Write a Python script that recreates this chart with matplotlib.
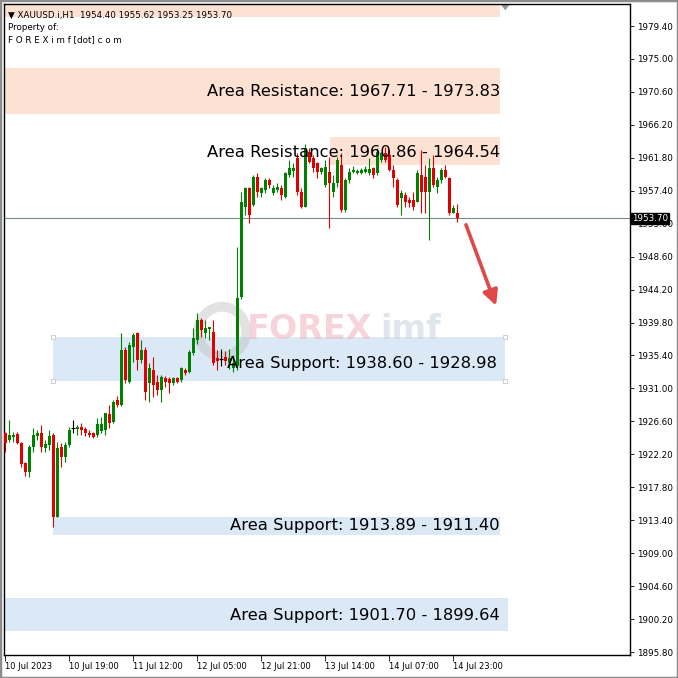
import matplotlib.pyplot as plt
from matplotlib.patches import Rectangle, Ellipse, Polygon

# XAUUSD H1 candles
opens = [1925.00, 1924.11, 1924.56, 1924.91, 1923.76, 1921.09, 1919.88, 1923.22, 1924.65, 1925.00,
         1923.00, 1923.44, 1924.78, 1913.87, 1923.13, 1921.89, 1923.44, 1925.67, 1925.54, 1925.89,
         1925.54, 1925.09, 1925.00, 1924.78, 1925.36, 1925.45, 1927.58, 1926.56, 1929.45, 1928.79,
         1936.13, 1931.90, 1936.58, 1938.36, 1934.80, 1936.13, 1931.68, 1933.46, 1931.90, 1930.79,
         1932.35, 1932.21, 1931.77, 1932.35, 1932.12, 1933.46, 1933.24, 1935.69, 1937.47, 1940.14,
         1938.36, 1938.89, 1938.58, 1935.00, 1934.90, 1935.20, 1934.40, 1933.70, 1934.00, 1943.20,
         1955.27, 1957.72, 1955.50, 1959.28, 1957.05, 1957.50, 1958.84, 1957.05, 1957.50, 1957.72,
         1956.61, 1959.50, 1960.00, 1961.73, 1957.28, 1955.27, 1962.62, 1961.73, 1961.06, 1959.94,
         1958.16, 1959.94, 1957.27, 1958.39, 1960.84, 1954.82, 1958.83, 1959.94, 1959.72, 1959.81,
         1959.94, 1959.72, 1960.39, 1959.72, 1961.51, 1962.40, 1962.18, 1960.17, 1958.84, 1956.39,
         1956.83, 1956.17, 1956.17, 1955.94, 1959.51, 1959.30, 1957.28, 1960.40, 1957.95, 1958.84,
         1960.17, 1959.06, 1954.38, 1954.40]
highs = [1925.22, 1926.78, 1925.22, 1925.22, 1923.89, 1921.22, 1923.44, 1925.67, 1925.45, 1926.12,
         1924.11, 1925.45, 1925.00, 1923.89, 1923.67, 1923.89, 1925.89, 1926.78, 1926.12, 1926.34,
         1925.89, 1925.45, 1925.22, 1927.00, 1927.23, 1927.76, 1928.79, 1929.45, 1929.99, 1938.36,
         1936.58, 1937.24, 1938.36, 1938.58, 1937.47, 1936.58, 1934.35, 1935.24, 1932.79, 1932.79,
         1932.66, 1932.57, 1932.57, 1932.57, 1933.91, 1933.68, 1936.13, 1939.03, 1941.03, 1940.36,
         1940.14, 1939.25, 1940.14, 1936.10, 1936.30, 1936.00, 1936.20, 1935.50, 1949.93, 1957.28,
         1957.94, 1957.94, 1959.50, 1959.73, 1957.94, 1959.06, 1959.06, 1958.17, 1958.39, 1958.17,
         1959.95, 1961.51, 1961.06, 1962.40, 1957.72, 1963.60, 1963.06, 1962.17, 1961.28, 1960.60,
         1961.50, 1961.95, 1959.50, 1961.95, 1962.39, 1959.05, 1960.39, 1960.70, 1960.30, 1960.40,
         1960.70, 1961.73, 1960.61, 1963.06, 1962.60, 1963.29, 1962.84, 1960.84, 1959.06, 1957.50,
         1957.28, 1956.61, 1957.28, 1960.17, 1962.84, 1960.84, 1961.73, 1962.18, 1959.28, 1960.40,
         1960.84, 1959.28, 1955.50, 1955.62]
lows = [1922.55, 1923.89, 1923.89, 1923.58, 1920.55, 1919.30, 1919.13, 1922.55, 1924.11, 1922.55,
        1922.55, 1922.78, 1912.54, 1913.80, 1920.55, 1921.22, 1923.22, 1925.00, 1924.78, 1924.78,
        1924.65, 1924.56, 1924.33, 1924.45, 1925.09, 1924.78, 1925.67, 1926.34, 1928.47, 1928.70,
        1931.68, 1931.68, 1934.57, 1933.46, 1934.35, 1929.45, 1929.23, 1929.90, 1930.12, 1929.23,
        1931.23, 1930.34, 1931.46, 1931.77, 1931.90, 1932.79, 1933.01, 1935.46, 1937.00, 1937.91,
        1937.69, 1937.47, 1934.13, 1933.50, 1934.00, 1934.10, 1933.60, 1933.20, 1933.50, 1943.00,
        1954.16, 1953.05, 1955.30, 1956.61, 1956.61, 1957.05, 1957.72, 1956.83, 1957.28, 1956.16,
        1956.39, 1959.28, 1959.28, 1956.83, 1955.05, 1955.27, 1961.06, 1959.95, 1959.06, 1959.70,
        1957.94, 1952.38, 1956.61, 1957.94, 1954.60, 1954.60, 1958.39, 1959.72, 1959.60, 1959.60,
        1959.81, 1959.50, 1959.05, 1959.50, 1961.30, 1961.29, 1960.00, 1957.95, 1955.28, 1954.16,
        1955.28, 1955.28, 1954.83, 1955.90, 1954.38, 1954.40, 1950.82, 1957.95, 1957.06, 1958.39,
        1959.06, 1954.16, 1954.38, 1953.25]
closes = [1923.67, 1924.78, 1924.78, 1923.76, 1920.91, 1919.88, 1923.22, 1924.78, 1925.00, 1923.22,
          1923.58, 1924.65, 1913.87, 1923.00, 1921.89, 1923.44, 1925.45, 1925.67, 1925.80, 1925.45,
          1925.09, 1924.78, 1924.56, 1926.25, 1926.25, 1927.67, 1926.34, 1929.23, 1928.79, 1936.13,
          1932.12, 1936.80, 1938.13, 1934.80, 1936.13, 1930.57, 1933.68, 1931.46, 1930.79, 1932.48,
          1931.90, 1931.77, 1932.35, 1931.90, 1933.68, 1933.10, 1935.91, 1937.69, 1940.14, 1938.80,
          1939.03, 1939.20, 1934.35, 1934.60, 1934.90, 1934.60, 1935.00, 1934.40, 1943.03, 1955.94,
          1957.72, 1954.16, 1959.28, 1957.28, 1957.72, 1958.84, 1958.17, 1957.72, 1957.94, 1956.83,
          1959.73, 1960.39, 1960.39, 1957.28, 1955.27, 1963.06, 1961.28, 1960.39, 1959.95, 1960.39,
          1960.61, 1958.39, 1958.39, 1961.50, 1954.82, 1958.83, 1959.94, 1960.17, 1960.07, 1960.17,
          1960.26, 1960.26, 1959.50, 1962.62, 1962.40, 1961.51, 1960.17, 1959.06, 1955.50, 1957.06,
          1955.94, 1955.72, 1955.28, 1959.73, 1957.28, 1957.28, 1960.40, 1958.17, 1958.84, 1960.17,
          1959.28, 1954.38, 1955.05, 1953.70]

time_labels = ["10 Jul 2023", "10 Jul 19:00", "11 Jul 12:00", "12 Jul 05:00",
               "12 Jul 21:00", "13 Jul 14:00", "14 Jul 07:00", "14 Jul 23:00"]
time_idx = [0, 16, 32, 48, 64, 80, 96, 112]

price_ticks = [1979.40 - 4.40 * k for k in range(20)]
last_price = 1953.70

zone_names = ["Area Resistance: 1967.71 - 1973.83", "Area Resistance: 1960.86 - 1964.54",
              "Area Support: 1938.60 - 1928.98", "Area Support: 1913.89 - 1911.40",
              "Area Support: 1901.70 - 1899.64"]
zone_lo = [1967.71, 1960.86, 1932.00, 1911.40, 1898.60]
zone_hi = [1973.83, 1964.54, 1937.90, 1913.89, 1903.00]
zone_kind = ["res", "res", "sup", "sup", "sup"]

# pixel geometry: bar i sits at x = 5 + 4*i, price scale 7.488 px per point
W = H = 678
fig = plt.figure(figsize=(6.78, 6.78), dpi=100)
fig.patch.set_facecolor("white")
ax = fig.add_axes([4 / W, (W - 655) / W, 626 / W, 651 / H])
ax.set_xlim(-0.25, 156.25)
ax.set_ylim(1895.40, 1982.34)

res_col = "#fde2d4"
sup_col = "#dbe9f7"

# top strip behind the header
ax.add_patch(Rectangle((-0.25, 1980.55), 124, 2.0, color=res_col, zorder=0, lw=0))
ax.add_patch(Polygon([[123.8, 1982.34], [126.3, 1982.34], [125.05, 1981.5]],
                     closed=True, color="#9a9a9a", zorder=1, lw=0))

x_ranges = [(-0.25, 123.75), (81.25, 123.75), (12, 125), (12, 123.75), (-0.25, 125.75)]
text_y = [1970.72, 1962.57, 1934.39, 1912.63, 1900.61]
text_x = [123.75, 123.75, 123.0, 123.75, 123.75]
for k in range(len(zone_names)):
    x0, x1 = x_ranges[k]
    col = res_col if zone_kind[k] == "res" else sup_col
    ax.add_patch(Rectangle((x0, zone_lo[k]), x1 - x0, zone_hi[k] - zone_lo[k],
                           color=col, zorder=0, lw=0))
    ax.text(text_x[k], text_y[k], zone_names[k], ha="right", va="center",
            fontsize=11.8, color="black", zorder=6)

# selection handles on the first support zone
for hx in (12, 125):
    for hy in (zone_lo[2], zone_hi[2]):
        ax.plot(hx, hy, marker="s", ms=3.5, mfc="white", mec="#c0c8d0", mew=0.6, zorder=2)

# watermark logo
ax.add_patch(Ellipse((54.3, 1938.6), 12.0, 6.6, fill=False, ec="#bfbfbf", lw=7, alpha=0.45, zorder=1))
ax.text(60.5, 1938.9, "FOREX", fontsize=24, fontweight="bold", color="#f2b8c6",
        alpha=0.6, va="center", ha="left", zorder=1)
ax.text(93.8, 1938.9, "imf", fontsize=24, fontweight="bold", color="#ccd6e0",
        alpha=0.6, va="center", ha="left", zorder=1)

# last price line
ax.axhline(last_price, color="#7a8a8a", lw=0.8, zorder=2)

# candles
up_col = "#008000"
dn_col = "#e00000"
for i in range(len(opens)):
    o, h, l, c = opens[i], highs[i], lows[i], closes[i]
    if c > o:
        col = up_col
    elif c < o:
        col = dn_col
    else:
        col = "black"
    ax.vlines(i, l, h, color=col, lw=0.8, zorder=3)
    if c == o:
        ax.hlines(o, i - 0.4, i + 0.4, color=col, lw=0.8, zorder=3)
    else:
        ax.bar(i, abs(c - o), bottom=min(o, c), width=0.75, color=col, lw=0, zorder=3)

# forecast arrow
ax.annotate("", xy=(123, 1941.7), xytext=(115, 1953.2),
            arrowprops=dict(arrowstyle="-|>,head_length=0.9,head_width=0.45",
                            color="#e04848", lw=2.6), zorder=7)

# header text
ax.text(0.006, 0.990, "\u25bc XAUUSD.i,H1  1954.40 1955.62 1953.25 1953.70",
        transform=ax.transAxes, fontsize=6.3, va="top", ha="left", zorder=8)
ax.text(0.006, 0.971, "Property of:", transform=ax.transAxes, fontsize=6.3,
        va="top", ha="left", zorder=8)
ax.text(0.006, 0.952, "F O R E X i m f [dot] c o m", transform=ax.transAxes,
        fontsize=6.3, va="top", ha="left", zorder=8)

# axes styling
ax.yaxis.tick_right()
ax.set_yticks(price_ticks)
ax.set_yticklabels([f"{p:.2f}" for p in price_ticks])
ax.set_xticks(time_idx)
ax.set_xticklabels(time_labels, ha="left")
ax.tick_params(axis="y", direction="out", length=3, width=0.6, labelsize=6.3, pad=2)
ax.tick_params(axis="x", direction="out", length=4, width=0.6, labelsize=6.0, pad=1)
for lab in ax.get_xticklabels():
    lab.set_x(lab.get_position()[0])
for s in ax.spines.values():
    s.set_linewidth(1.0)
    s.set_color("black")

ax.text(1.003, last_price, f"{last_price:.2f}", transform=ax.get_yaxis_transform(),
        fontsize=6.3, color="white", va="center", ha="left", zorder=10, clip_on=False,
        bbox=dict(boxstyle="square,pad=0.15", fc="black", ec="black"))

fig.add_artist(Rectangle((0, 0), 1, 1, transform=fig.transFigure, fill=False,
                         ec="#8c8c8c", lw=2.5))

fig.savefig("out.png", dpi=100)
